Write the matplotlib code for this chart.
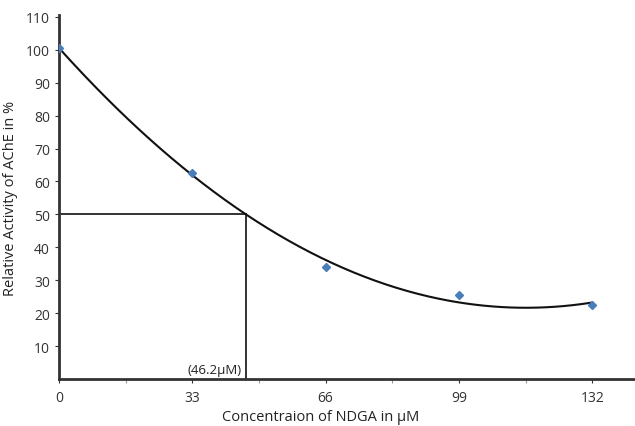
import numpy as np
import matplotlib
matplotlib.use("Agg")
import matplotlib.pyplot as plt

conc = [0, 33, 66, 99, 132]
activity = [100.5, 62.7, 33.9, 25.5, 22.5]
ic50_x = 46.2
ic50_y = 50
xticks = [0, 33, 66, 99, 132]
yticks = [10, 20, 30, 40, 50, 60, 70, 80, 90, 100, 110]

plt.rcParams['font.family'] = ['Open Sans', 'DejaVu Sans']

fig = plt.figure(figsize=(6.35, 4.27), dpi=100)
ax = fig.add_axes([0.093, 0.110, 0.907, 0.852])

coef = np.polyfit(conc, activity, 2)
xs = np.linspace(0, 132, 300)
ax.plot(xs, np.polyval(coef, xs), color='#111111', lw=1.5, zorder=3)
ax.plot(conc, activity, linestyle='none', marker='D', ms=4, color='#4a7ebb', zorder=4)

ax.plot([0, ic50_x], [ic50_y, ic50_y], color='#222222', lw=1.3, zorder=2)
ax.plot([ic50_x, ic50_x], [0, ic50_y], color='#222222', lw=1.3, zorder=2)
ax.text(ic50_x - 1, 1.0, '(46.2\u03bcM)', ha='right', va='bottom', fontsize=9.5, color='#222222')

ax.set_xlim(0, 142.6)
ax.set_ylim(0, 110.5)
ax.set_xticks(xticks)
ax.set_xticks([16.5, 49.5, 82.5, 115.5], minor=True)
ax.set_yticks(yticks)
ax.tick_params(axis='both', labelsize=10, colors='#333333', length=3, width=0.8)
ax.tick_params(axis='x', which='minor', length=3, width=0.8, color='#999999')
ax.tick_params(axis='x', pad=5)

for s in ['top', 'right']:
    ax.spines[s].set_visible(False)
for s in ['left', 'bottom']:
    ax.spines[s].set_color('#333333')
    ax.spines[s].set_linewidth(2)

ax.set_xlabel('Concentraion of NDGA in \u03bcM', fontsize=10.5, color='#222222', labelpad=3)
ax.xaxis.set_label_coords(0.455, -0.083)
ax.set_ylabel('Relative Activity of AChE in %', fontsize=10.5, color='#222222', labelpad=6)

fig.savefig('out.png', dpi=100)
